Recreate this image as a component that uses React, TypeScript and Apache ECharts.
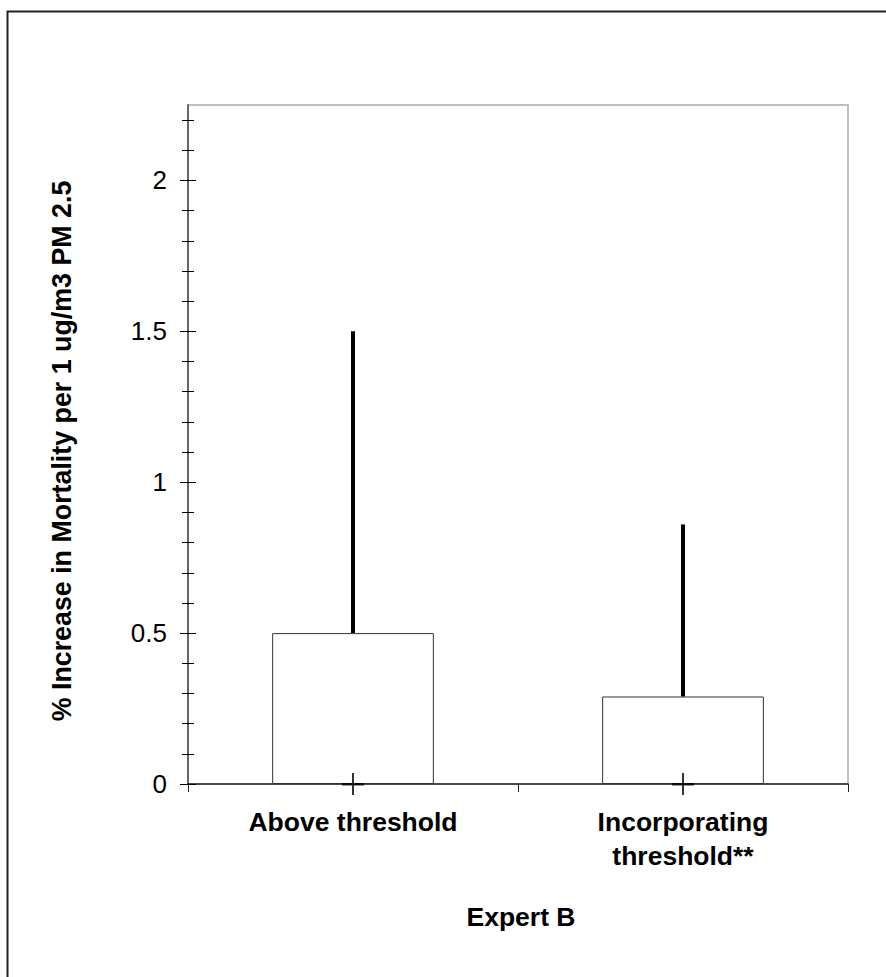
import React, { useEffect, useRef } from "react";
import * as echarts from "echarts";

const categories = ["Above threshold", "Incorporating\nthreshold**"];
const centralValues = [0.5, 0.29];
const upperValues = [1.5, 0.86];
const yMajorTicks = [0, 0.5, 1, 1.5, 2];
const yMinorTicks = [0.1, 0.2, 0.3, 0.4, 0.6, 0.7, 0.8, 0.9, 1.1, 1.2, 1.3, 1.4, 1.6, 1.7, 1.8, 1.9, 2.1, 2.2];
const yMin = 0;
const yMax = 2.25;
const yTitle = "% Increase in Mortality per 1 ug/m3 PM 2.5";
const xTitle = "Expert B";

const FONT = 'Arial, "Liberation Sans", sans-serif';

export default function App() {
  const ref = useRef<HTMLDivElement>(null);
  useEffect(() => {
    if (!ref.current) return;
    const chart = echarts.init(ref.current, null, { renderer: "svg" });
    const baseY = {
      type: "value",
      min: yMin,
      max: yMax,
      position: "left",
      splitLine: { show: false },
    };
    const option: any = {
      animation: false,
      backgroundColor: "#ffffff",
      grid: {
        left: 188,
        right: 38,
        top: 105,
        bottom: 193,
        show: true,
        borderColor: "#c0c0c0",
        borderWidth: 2,
        backgroundColor: "transparent",
      },
      xAxis: {
        type: "category",
        data: categories,
        boundaryGap: true,
        axisLine: { show: true, lineStyle: { color: "#222", width: 1.5 } },
        axisTick: { show: true, length: 8, inside: false, lineStyle: { color: "#222", width: 1 } },
        axisLabel: {
          interval: 0,
          margin: 21,
          color: "#000",
          fontFamily: FONT,
          fontWeight: "bold",
          fontSize: 26.5,
          lineHeight: 34,
        },
      },
      yAxis: [
        {
          ...baseY,
          axisLine: { show: true, lineStyle: { color: "#666", width: 2 } },
          axisTick: { show: true, length: 8, inside: false, customValues: yMajorTicks, lineStyle: { color: "#000", width: 1 } },
          axisLabel: { show: true, margin: 21, customValues: yMajorTicks, color: "#000", fontFamily: FONT, fontSize: 26 },
        },
        {
          ...baseY,
          axisLine: { show: false },
          axisTick: { show: true, length: 8, inside: true, customValues: yMajorTicks, lineStyle: { color: "#000", width: 1 } },
          axisLabel: { show: false },
        },
        {
          ...baseY,
          axisLine: { show: false },
          axisTick: { show: true, length: 6, inside: false, customValues: yMinorTicks, lineStyle: { color: "#000", width: 1 } },
          axisLabel: { show: false },
        },
        {
          ...baseY,
          axisLine: { show: false },
          axisTick: { show: true, length: 6, inside: true, customValues: yMinorTicks, lineStyle: { color: "#000", width: 1 } },
          axisLabel: { show: false },
        },
      ],
      series: [
        {
          type: "bar",
          data: centralValues,
          barWidth: "49%",
          itemStyle: { color: "#ffffff", borderColor: "#333", borderWidth: 1 },
          z: 2,
        },
        {
          type: "custom",
          data: categories.map((_, i) => [i, centralValues[i], upperValues[i]]),
          encode: { x: 0, y: [1, 2] },
          renderItem: (params: any, api: any) => {
            const x = api.value(0);
            const lo = api.coord([x, api.value(1)]);
            const hi = api.coord([x, api.value(2)]);
            return {
              type: "line",
              shape: { x1: lo[0], y1: lo[1], x2: hi[0], y2: hi[1] },
              style: { stroke: "#000", lineWidth: 4 },
            };
          },
          z: 3,
        },
        {
          type: "scatter",
          data: categories.map((_, i) => [i, 0]),
          symbol: "path://M0,10 L22,10 L22,12.5 L0,12.5 Z M10,0 L12,0 L12,22 L10,22 Z",
          symbolSize: [22, 22],
          itemStyle: { color: "#000" },
          clip: false,
          z: 5,
        },
      ],
      graphic: [
        {
          type: "rect",
          shape: { x: 7.5, y: 11.5, width: 1000, height: 1000 },
          style: { fill: "none", stroke: "#222", lineWidth: 2 },
          silent: true,
          z: 100,
        },
        {
          type: "text",
          x: 62,
          y: 451,
          rotation: Math.PI / 2,
          style: {
            text: yTitle,
            fontFamily: FONT,
            fontWeight: "bold",
            fontSize: 26.8,
            fill: "#000",
            align: "center",
            verticalAlign: "middle",
          },
        },
        {
          type: "text",
          x: 521,
          y: 917,
          style: {
            text: xTitle,
            fontFamily: FONT,
            fontWeight: "bold",
            fontSize: 26.5,
            fill: "#000",
            align: "center",
            verticalAlign: "middle",
          },
        },
      ],
    };
    chart.setOption(option);
    return () => chart.dispose();
  }, []);
  return (
    <div
      ref={ref}
      style={{ position: "fixed", left: 0, top: 0, width: 886, height: 977, background: "#fff" }}
    />
  );
}
